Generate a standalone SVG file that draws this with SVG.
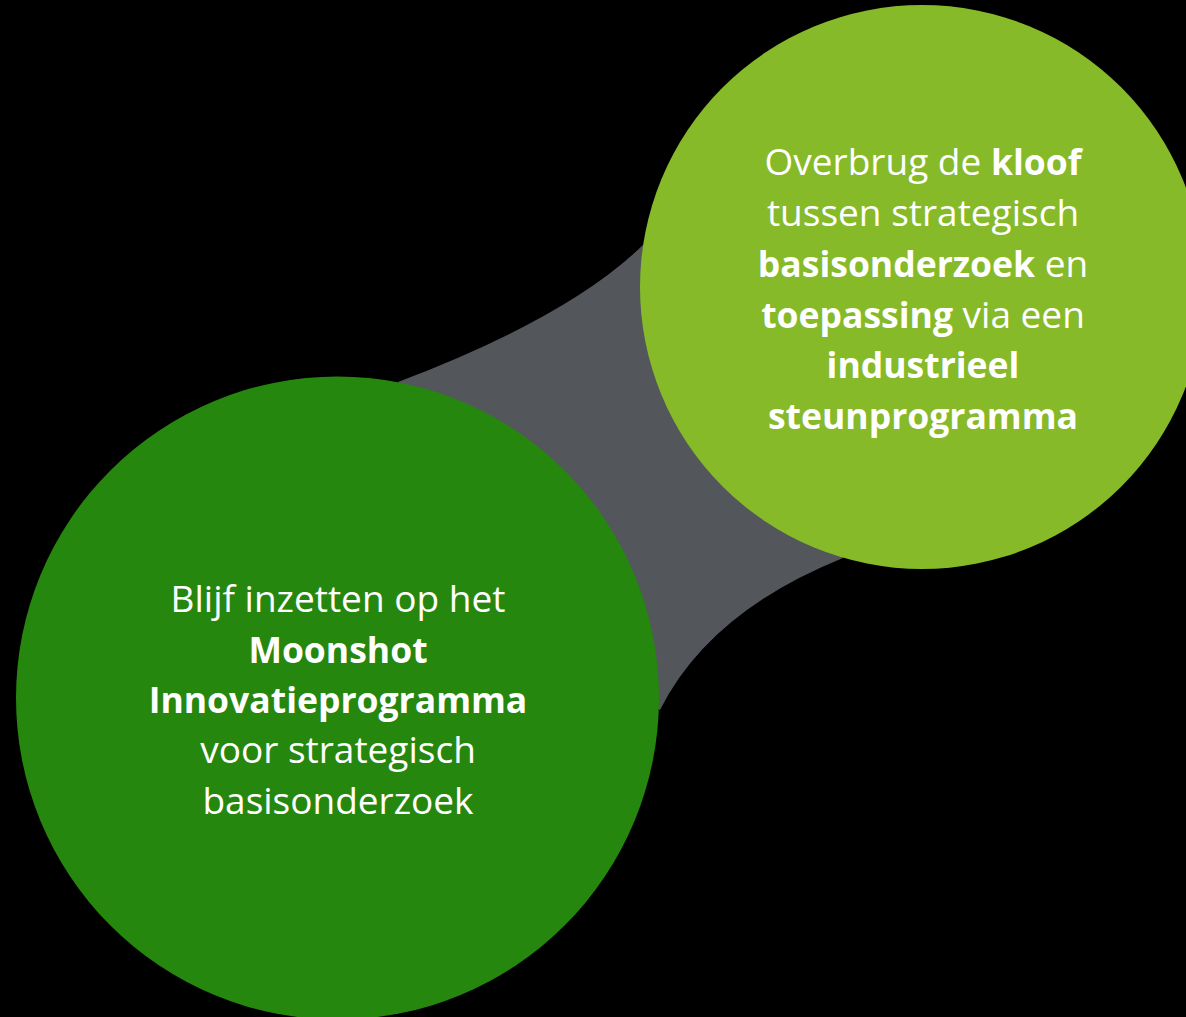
<svg xmlns="http://www.w3.org/2000/svg" width="1186" height="1017" viewBox="0 0 1186 1017">
  <style>
    .t { font-family: "Open Sans", "Noto Sans", sans-serif; font-size: 37px; fill: #ffffff; text-anchor: middle; }
    .b { font-weight: bold; font-size: 35.5px; }
  </style>
  <rect x="0" y="0" width="1186" height="1017" fill="#000000"/>
  <g id="connectors">
    <path d="M 398 382 Q 572 316 645 243 L 700 300 L 843 558 Q 709 612 660 710 L 500 600 Z" fill="#53565b"/>
  </g>
  <g id="node-moonshot">
    <circle cx="337.5" cy="698" r="321.5" fill="#26870f"/>
    <text class="t" x="338" y="612">Blijf inzetten op het</text>
    <text class="t b" x="338" y="663">Moonshot</text>
    <text class="t b" x="338" y="713">Innovatieprogramma</text>
    <text class="t" x="338" y="763">voor strategisch</text>
    <text class="t" x="338" y="814">basisonderzoek</text>
  </g>
  <g id="node-kloof">
    <circle cx="922" cy="287" r="282" fill="#86ba28"/>
    <text class="t" x="923" y="175">Overbrug de <tspan class="b">kloof</tspan></text>
    <text class="t" x="923" y="226">tussen strategisch</text>
    <text class="t" x="923" y="277"><tspan class="b">basisonderzoek</tspan> en</text>
    <text class="t" x="923" y="328"><tspan class="b">toepassing</tspan> via een</text>
    <text class="t b" x="923" y="378">industrieel</text>
    <text class="t b" x="923" y="429">steunprogramma</text>
  </g>
</svg>
